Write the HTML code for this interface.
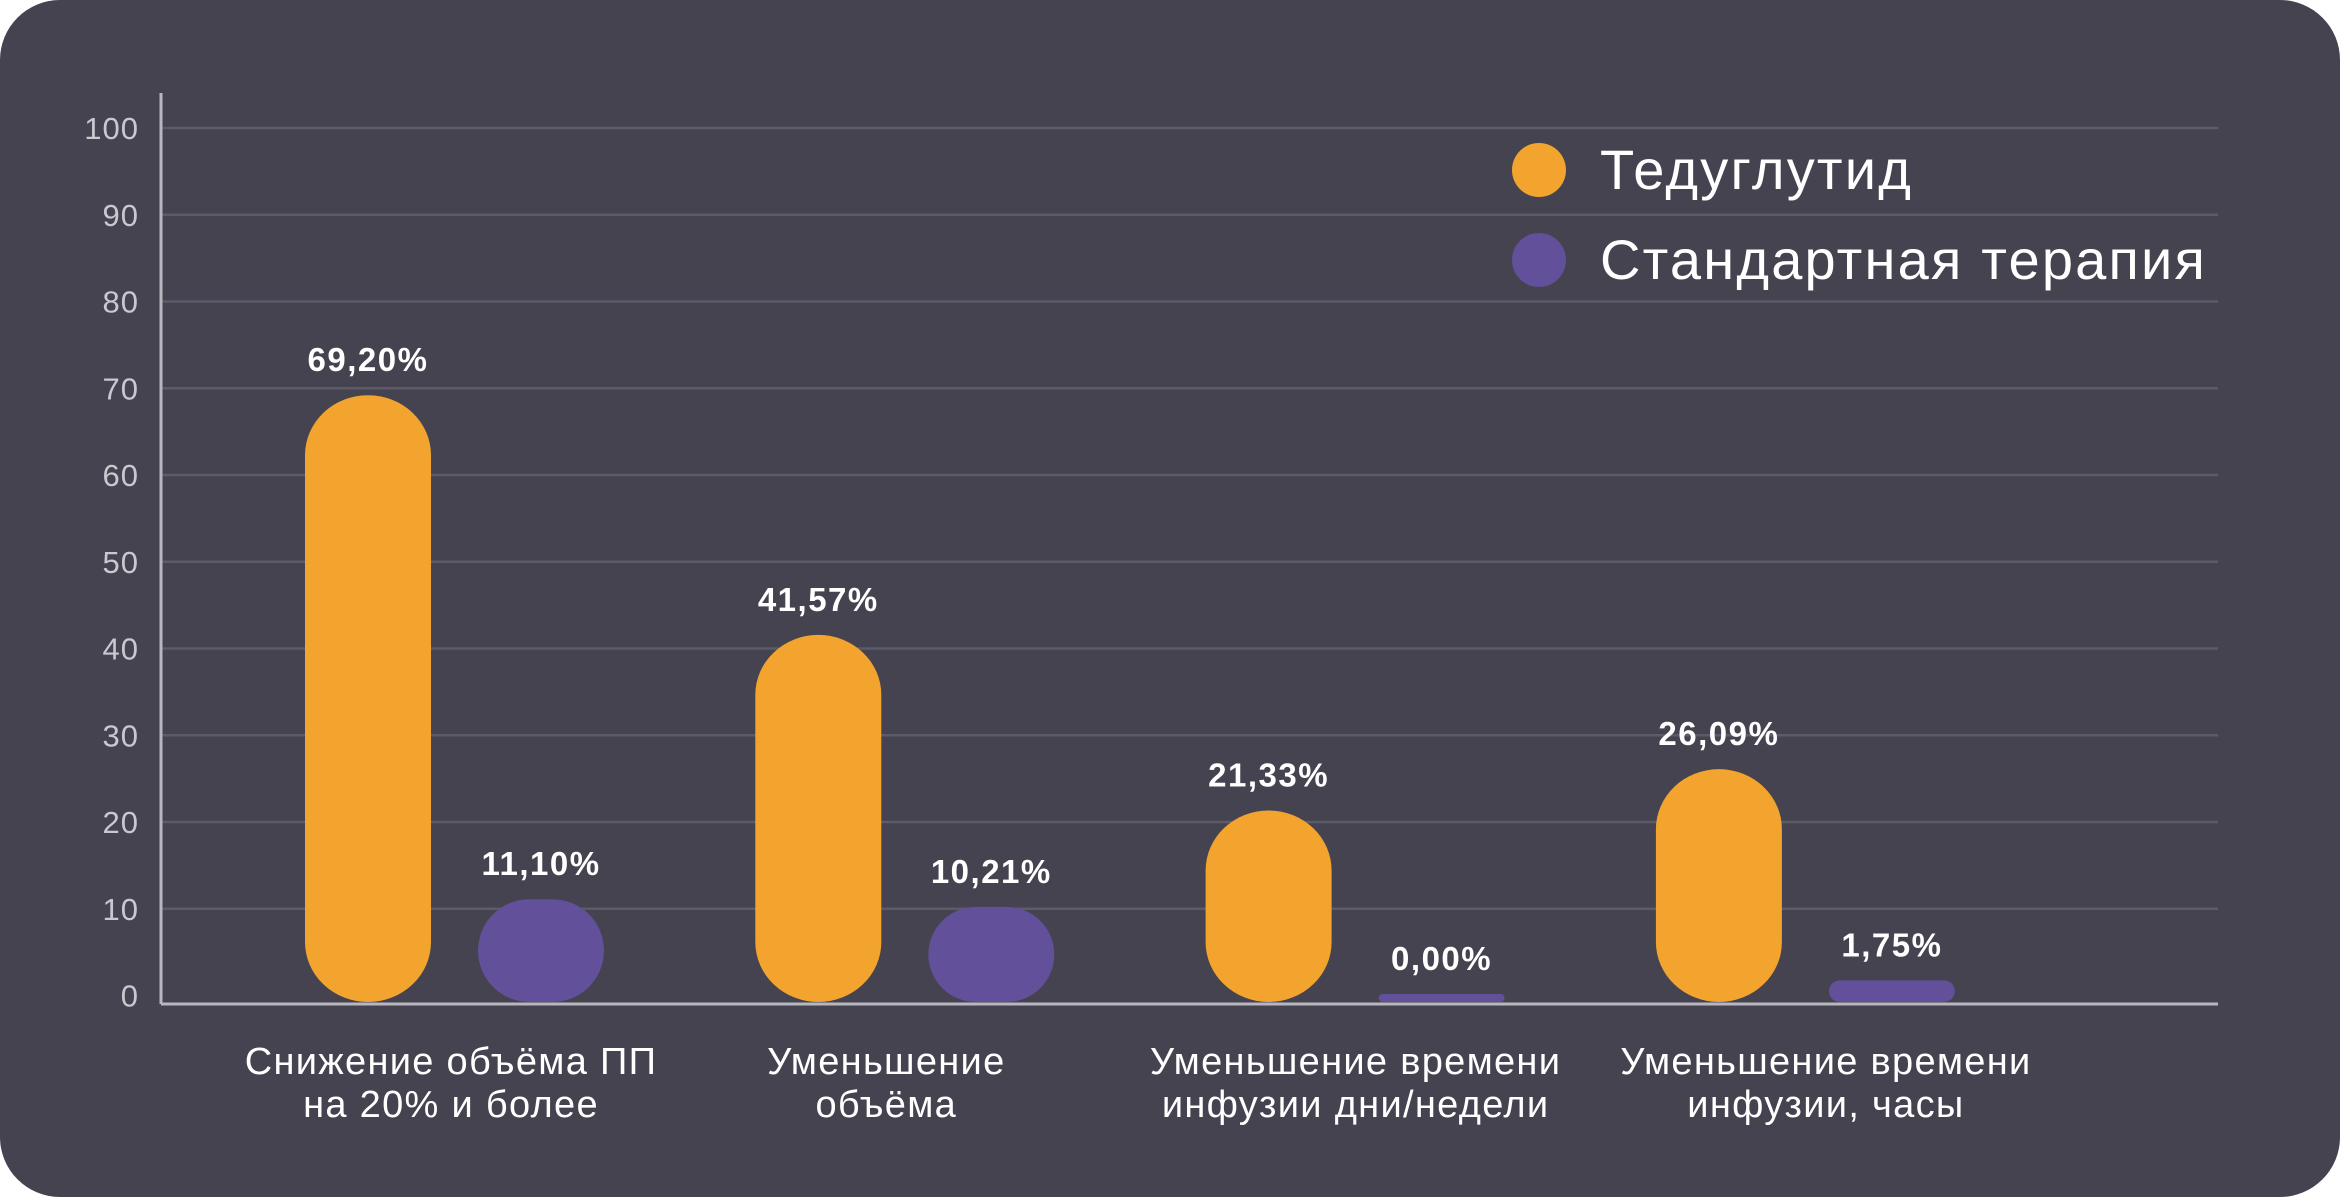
<!DOCTYPE html>
<html><head><meta charset="utf-8"><style>
html,body{margin:0;padding:0;background:#fff;}
svg{display:block;}
text{font-family:"Liberation Sans","DejaVu Sans",sans-serif;}
</style></head><body>
<svg id="chart" width="2340" height="1197" viewBox="0 0 2340 1197">
<rect x="0" y="0" width="2340" height="1197" rx="60" ry="60" fill="#44434f"/>
<g id="grid"></g><g id="bars"></g><g id="labels"></g>
<line x1="161" y1="93" x2="161" y2="1004" stroke="#b8b7c0" stroke-width="3"/>
<line x1="161" y1="1004" x2="2218" y2="1004" stroke="#b8b7c0" stroke-width="3"/>
<g>
<g>
<circle cx="1539" cy="170" r="27" fill="#f2a42f"/>
<text x="1600" y="189" font-size="56" letter-spacing="2.2" fill="#ffffff">Тедуглутид</text>
</g>
<g>
<circle cx="1539" cy="260" r="27" fill="#62509b"/>
<text x="1600" y="279" font-size="56" letter-spacing="2.2" fill="#ffffff">Стандартная терапия</text>
</g>
</g>
</svg>
<script>
const categories = [["Снижение объёма ПП","на 20% и более"],["Уменьшение","объёма"],["Уменьшение времени","инфузии дни/недели"],["Уменьшение времени","инфузии, часы"]];
const teduglutide = [69.20, 41.57, 21.33, 26.09];
const standard = [11.10, 10.21, 0.00, 1.75];
const yTicks = [0,10,20,30,40,50,60,70,80,90,100];

const NS="http://www.w3.org/2000/svg";
const y = v => 995.5 - v*8.675;
const base = 1002;
const groupX = i => 368 + i*450.3;
const labelOffset = [83, 68, 87, 107];
const barW = 126;
function mk(tag, attrs, parent){const e=document.createElementNS(NS,tag);for(const k in attrs)e.setAttribute(k,attrs[k]);parent.appendChild(e);return e;}
const grid=document.getElementById('grid'), bars=document.getElementById('bars'), labels=document.getElementById('labels');
yTicks.forEach(t=>{
  if(t>0){const l=mk('line',{x1:161,x2:2218,y1:y(t),y2:y(t),stroke:'#5c5b68','stroke-width':2.5},grid);
  
  }
  const tx=mk('text',{x:139,y:y(t)+11,'text-anchor':'end','font-size':31,'letter-spacing':1,fill:'#c9c8cf'},grid);
  tx.textContent=t;
  
  
});
function fmt(v){return v.toFixed(2).replace('.',',')+'%';}
function drawBar(cx,v,color,name){
  let top=Math.min(y(v), base-8);
  const h=base-top;
  const r=mk('rect',{x:cx-barW/2,y:top,width:barW,height:h,rx:Math.min(63,h/2),ry:Math.min(60,h/2),fill:color},bars);
  
  
  const t=mk('text',{x:cx,y:top-24,'text-anchor':'middle','font-size':33,'letter-spacing':1.5,'font-weight':'bold',fill:'#ffffff'},labels);
  t.textContent=fmt(v);
  
  
}
categories.forEach((c,i)=>{
  const gx=groupX(i);
  drawBar(gx, teduglutide[i], '#f2a42f', 'bar-teduglutide-'+(i+1));
  drawBar(gx+173, standard[i], '#62509b', 'bar-standard-'+(i+1));
  const cx=gx+labelOffset[i];
  c.forEach((line,j)=>{
    const t=mk('text',{x:cx,y:1074+j*43,'text-anchor':'middle','font-size':38,'letter-spacing':1.3,fill:'#ffffff'},labels);
    t.textContent=line;
    
    
  });
});
</script>
</body></html>
